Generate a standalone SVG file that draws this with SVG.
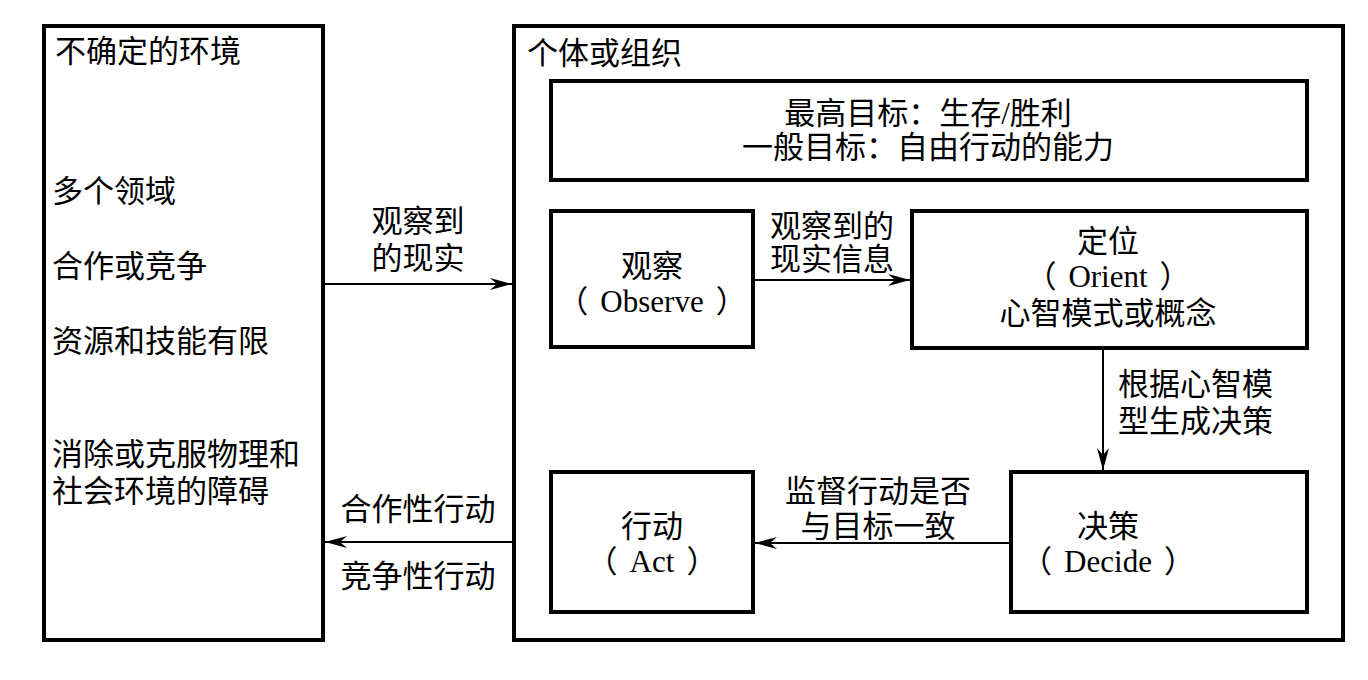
<svg xmlns="http://www.w3.org/2000/svg" width="1368" height="680" viewBox="0 0 1368 680">
<style>
.box{fill:#fff;stroke:#000;stroke-width:4}
.t{font-family:"Liberation Serif","Noto Sans CJK SC",serif;font-size:31px;fill:#000}
.m{text-anchor:middle}
.c{fill:none;stroke:#000;stroke-width:2}
</style>
<defs>
<marker id="ah" viewBox="0 0 22 12" refX="22" refY="6" markerWidth="22" markerHeight="12" markerUnits="userSpaceOnUse" orient="auto">
<path d="M0,0 L22,6 L0,12 L7,6 Z" fill="#000"/>
</marker>
</defs>
<rect width="1368" height="680" fill="#fff"/>
<g id="env">
<rect class="box" x="44" y="26" width="279" height="614"/>
<text class="t" x="55" y="62">不确定的环境</text>
<text class="t" x="52" y="202">多个领域</text>
<text class="t" x="52" y="277">合作或竞争</text>
<text class="t" x="52" y="352">资源和技能有限</text>
<text class="t" x="52" y="465">消除或克服物理和</text>
<text class="t" x="52" y="502">社会环境的障碍</text>
</g>
<g id="org">
<rect class="box" x="514" y="26" width="829" height="614"/>
<text class="t" x="527" y="64">个体或组织</text>
</g>
<g id="goal">
<rect class="box" x="551" y="81" width="756" height="99"/>
<text class="t m" x="928" y="124">最高目标：生存/胜利</text>
<text class="t m" x="928" y="158">一般目标：自由行动的能力</text>
</g>
<g id="observe">
<rect class="box" x="551" y="211" width="202" height="136"/>
<text class="t m" x="652" y="277">观察</text>
<text class="t m" x="652" y="312">（<tspan dx="12">Observe</tspan><tspan dx="12">）</tspan></text>
</g>
<g id="orient">
<rect class="box" x="912" y="211" width="395" height="137"/>
<text class="t m" x="1108" y="252">定位</text>
<text class="t m" x="1108" y="287">（<tspan dx="12">Orient</tspan><tspan dx="12">）</tspan></text>
<text class="t m" x="1108" y="324">心智模式或概念</text>
</g>
<g id="act">
<rect class="box" x="551" y="472" width="202" height="140"/>
<text class="t m" x="652" y="537">行动</text>
<text class="t m" x="652" y="572">（<tspan dx="12">Act</tspan><tspan dx="12">）</tspan></text>
</g>
<g id="decide">
<rect class="box" x="1011" y="472" width="296" height="140"/>
<text class="t m" x="1108" y="537">决策</text>
<text class="t m" x="1108" y="572">（<tspan dx="12">Decide</tspan><tspan dx="12">）</tspan></text>
</g>
<g id="connectors">
<line class="c" x1="325" y1="284" x2="512" y2="284" marker-end="url(#ah)"/>
<text class="t m" x="418" y="232">观察到</text>
<text class="t m" x="418" y="269">的现实</text>
<line class="c" x1="755" y1="280" x2="910" y2="280" marker-end="url(#ah)"/>
<text class="t m" x="832" y="237">观察到的</text>
<text class="t m" x="832" y="270">现实信息</text>
<line class="c" x1="1103" y1="350" x2="1103" y2="470" marker-end="url(#ah)"/>
<text class="t" x="1118" y="395">根据心智模</text>
<text class="t" x="1118" y="432">型生成决策</text>
<line class="c" x1="1009" y1="543" x2="755" y2="543" marker-end="url(#ah)"/>
<text class="t m" x="878" y="502">监督行动是否</text>
<text class="t m" x="878" y="537">与目标一致</text>
<line class="c" x1="512" y1="542" x2="325" y2="542" marker-end="url(#ah)"/>
<text class="t m" x="418" y="520">合作性行动</text>
<text class="t m" x="418" y="587">竞争性行动</text>
</g>
</svg>
